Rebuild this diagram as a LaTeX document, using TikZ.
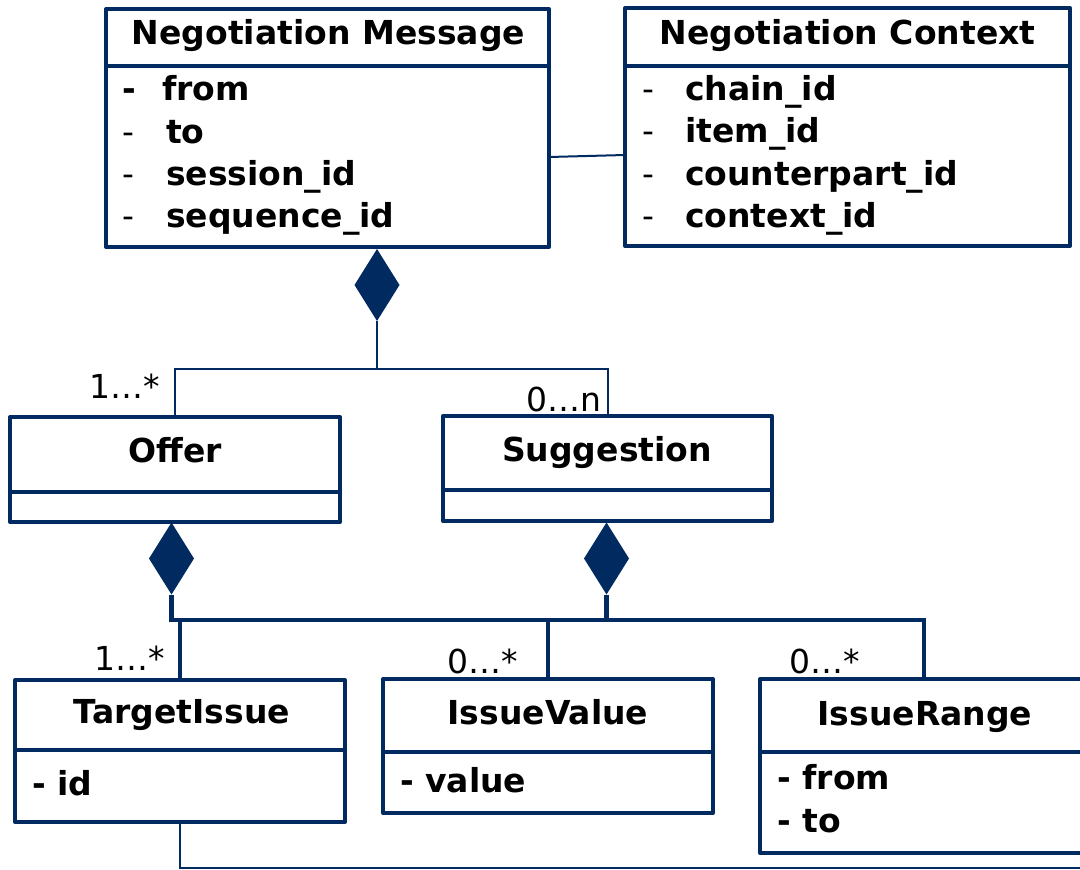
\documentclass[tikz,border=0pt]{standalone}
\usepackage{fontspec}
\setmainfont{DejaVu Sans}
\usetikzlibrary{shapes.geometric,calc}
\definecolor{navy}{RGB}{0,42,96}
\tikzset{
  umlbox/.style={draw=navy, line width=4pt, outer sep=0pt, inner sep=0pt, anchor=north west, line join=round},
  divline/.style={draw=navy, line width=4pt},
  conn/.style={draw=navy, line width=2pt},
  bigconn/.style={draw=navy, line width=4.5pt, line join=miter},
  comp/.style={diamond, fill=navy, draw=none, inner sep=0pt, outer sep=0pt, minimum width=45pt, minimum height=72pt},
  mult/.style={font=\fontsize{33}{38}\selectfont, inner sep=0pt, anchor=base west, text=black},
  clstitle/.style={font=\fontsize{33}{40}\selectfont\bfseries, inner sep=0pt, anchor=base, text=black},
  attrtxt/.style={font=\fontsize{33}{40}\selectfont\bfseries, inner sep=0pt, anchor=base west, text=black},
  attrdash/.style={font=\fontsize{33}{40}\selectfont, inner sep=0pt, anchor=base west, text=black}
}
\begin{document}
\begin{tikzpicture}[x=1pt,y=-1pt]
\useasboundingbox (0,0) rectangle (1080,870);
\clip (0,0) rectangle (1080,870);
\fill[white] (0,0) rectangle (1080,870);

% ---------- class boxes ----------
\node[umlbox, minimum width=443pt, minimum height=238pt] (nm) at (106,9) {};
\node[umlbox, minimum width=445pt, minimum height=238pt] (nc) at (625,8) {};
\node[umlbox, minimum width=330pt, minimum height=105pt] (offer) at (10,417) {};
\node[umlbox, minimum width=329pt, minimum height=105pt] (sugg) at (443,416) {};
\node[umlbox, minimum width=330pt, minimum height=142pt] (ti) at (15,680) {};
\node[umlbox, minimum width=330pt, minimum height=134pt] (iv) at (383,679) {};
\node[umlbox, minimum width=360pt, minimum height=174pt] (ir) at (760,679) {};

% dividers
\draw[divline] ($(nm.north west)+(0,57)$) -- ($(nm.north east)+(0,57)$);
\draw[divline] ($(nc.north west)+(0,58)$) -- ($(nc.north east)+(0,58)$);
\draw[divline] ($(offer.north west)+(0,75)$) -- ($(offer.north east)+(0,75)$);
\draw[divline] ($(sugg.north west)+(0,74)$) -- ($(sugg.north east)+(0,74)$);
\draw[divline] ($(ti.north west)+(0,70)$) -- ($(ti.north east)+(0,70)$);
\draw[divline] ($(iv.north west)+(0,73)$) -- ($(iv.north east)+(0,73)$);
\draw[divline] ($(ir.north west)+(0,73)$) -- ($(ir.north east)+(0,73)$);

% ---------- titles ----------
\node[clstitle] (nmT) at (328.5,44) {Negotiation Message};
\node[clstitle] (ncT) at (847.5,44) {Negotiation Context};
\node[clstitle] (offerT) at (175,462) {Offer};
\node[clstitle] (suggT) at (607,461) {Suggestion};
\node[clstitle] (tiT) at (182,723) {TargetIssue};
\node[clstitle] (ivT) at (548,724) {IssueValue};
\node[clstitle] (irT) at (925,725) {IssueRange};

% ---------- attributes ----------
\node[attrtxt] (nmD1) at (122,100) {-};
\node[attrtxt] (nmA1) at (162,100) {from};
\node[attrdash] (nmD2) at (122,143) {-};
\node[attrtxt] (nmA2) at (166,143) {to};
\node[attrdash] (nmD3) at (122,185) {-};
\node[attrtxt] (nmA3) at (166,185) {session\_id};
\node[attrdash] (nmD4) at (122,227) {-};
\node[attrtxt] (nmA4) at (166,227) {sequence\_id};

\node[attrdash] (ncD1) at (642,100) {-};
\node[attrtxt] (ncA1) at (685,100) {chain\_id};
\node[attrdash] (ncD2) at (642,142) {-};
\node[attrtxt] (ncA2) at (685,142) {item\_id};
\node[attrdash] (ncD3) at (642,185) {-};
\node[attrtxt] (ncA3) at (685,185) {counterpart\_id};
\node[attrdash] (ncD4) at (642,227) {-};
\node[attrtxt] (ncA4) at (685,227) {context\_id};

\node[attrtxt] (tiA1) at (32,795) {- id};
\node[attrtxt] (ivA1) at (400,792) {- value};
\node[attrtxt] (irA1) at (777,789) {- from};
\node[attrtxt] (irA2) at (777,832) {- to};

% ---------- composition diamonds ----------
\node[comp] (d1) at (377,285) {};
\node[comp] (d2) at (171.5,558.5) {};
\node[comp] (d3) at (606.5,558.5) {};

% ---------- connectors ----------
\draw[conn] ($(nm.east)+(0,29)$) -- ($(nc.west)+(0,28)$);

\coordinate (j1) at (377,369);
\draw[conn] (d1.south) -- (j1) -| (offer.north);
\draw[conn] (j1) -| (sugg.north);

\coordinate (j2) at (171.5,620);
\coordinate (jr) at (924,620);
\draw[bigconn] (d2.south) -- (j2) -- (jr) -- (jr |- ir.north);
\draw[bigconn] (d3.south) -- (d3.south |- j2);
\draw[bigconn] (ti.north) -- (ti.north |- j2);
\draw[bigconn] (iv.north) -- (iv.north |- j2);

\coordinate (endR) at (1082,868);
\draw[conn] (ti.south) |- (endR);

% ---------- multiplicities ----------
\node[mult] (m1) at (89,398) {1…*};
\node[mult] (m2) at (526,411) {0…n};
\node[mult] (m3) at (94,670) {1…*};
\node[mult] (m4) at (447,673) {0…*};
\node[mult] (m5) at (789,673) {0…*};
\end{tikzpicture}
\end{document}
